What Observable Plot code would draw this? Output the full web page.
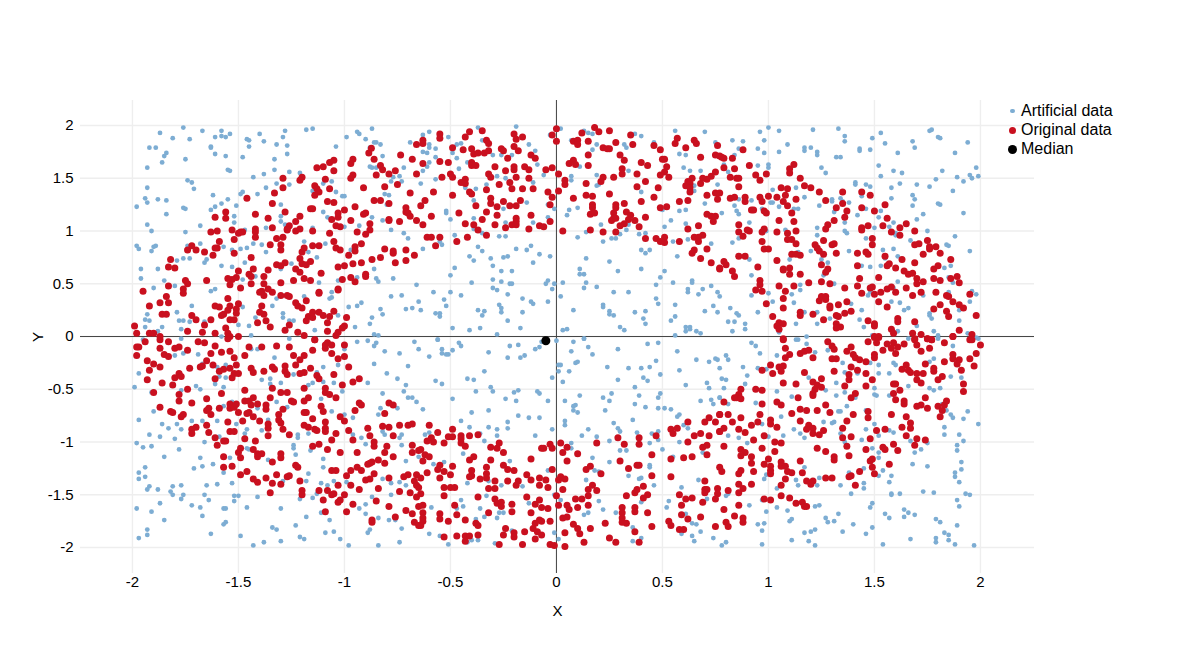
<!DOCTYPE html>
<html>
<head>
<meta charset="utf-8">
<script src="https://cdn.jsdelivr.net/npm/d3@7"></script>
<script src="https://cdn.jsdelivr.net/npm/@observablehq/plot@0.6"></script>
<style>
html,body{margin:0;padding:0;background:#fff;}
#wrap{position:relative;width:1183px;height:654px;font-family:"Liberation Sans",Arial,sans-serif;}
.lg{position:absolute;left:1021px;font-size:16px;line-height:18px;color:#000;white-space:nowrap;}
.sw{position:absolute;border-radius:50%;}
</style>
</head>
<body>
<div id="wrap"></div>
<script>
const xTicks=[-2,-1.5,-1,-0.5,0,0.5,1,1.5,2];
const yTicks=[-2,-1.5,-1,-0.5,0,0.5,1,1.5,2];
const medianPoint=[[-0.05,-0.04]];
const originalNW=[[-1.99,.1],[-1.98,.03],[-1.92,.03],[-1.9,.03],[-1.87,0],[-.873,1.785],[-.885,1.74],[-.66,1.82],[-.735,1.72],[-.68,1.68],[-.86,1.68],[-.96,1.68],[-.97,1.64],[-1.05,1.67],[-1.07,1.65],[-1.1,1.61],[-1.13,1.6],[-1.05,1.57],[-.83,1.62],[-.82,1.58],[-.85,1.53],[-.79,1.54],[-.76,1.57],[-.75,1.44],[-.66,1.54],[-.96,1.53],[-.97,1.5],[-1.09,1.49],[-1.2,1.51],[-1.21,1.48],[-1.29,1.5],[-1.29,1.41],[-1.33,1.36],[-1.14,1.43],[-1.07,1.4],[-1.13,1.4],[-1.12,1.37],[-1.14,1.34],[-.91,1.41],[-.81,1.42],[-.69,1.36],[-1.46,1.31],[-1.34,1.26],[-1.08,1.28],[-1.05,1.27],[-.86,1.29],[-.83,1.29],[-.79,1.26],[-.71,1.22],[-.71,1.18],[-.7,1.17],[-.69,1.14],[-.66,1.1],[-.95,1.23],[-1,1.2],[-1.16,1.21],[-1.15,1.21],[-1.28,1.18],[-1.42,1.16],[-1.56,1.18],[-1.56,1.12],[-1.61,1.13],[-1.36,1.12],[-1.21,1.14],[-1.23,1.09],[-1.26,1.05],[-1.27,1.02],[-1.27,1.01],[-1.23,1],[-1.21,1.02],[-1.34,1.03],[-1.42,1.02],[-1.42,.99],[-1.42,.94],[-1.48,.99],[-1.49,.99],[-1.5,.98],[-1.53,1.01],[-1.52,.92],[-1.6,1],[-1.63,.99],[-1.59,.9],[-1.6,.84],[-1.61,.84],[-1.62,.77],[-1.72,.86],[-1.74,.82],[-1.7,.82],[-1.66,.8],[-1.52,.79],[-1.44,.75],[-1.82,.73],[-1.83,.66],[-1.8,.65],[-1.5,.62],[-1.43,.64],[-1.45,.59],[-1.44,.57],[-1.36,.63],[-1.38,.57],[-1.51,.56],[-1.53,.54],[-1.54,.49],[-1.55,.55],[-1.65,.53],[-1.75,.53],[-1.74,.5],[-1.76,.45],[-1.76,.41],[-1.83,.48],[-1.95,.43],[-1.84,.38],[-1.87,.32],[-1.83,.32],[-1.92,.29],[-1.86,.21],[-1.84,.21],[-1.72,.2],[-1.7,.16],[-1.66,.11],[-1.74,.05],[-1.67,.04],[-1.61,.03],[-1.56,.08],[-1.55,.03],[-1.54,0],[-1.5,0],[-1.63,.16],[-1.61,.29],[-1.59,.28],[-1.55,.36],[-1.54,.29],[-1.5,.31],[-1.55,.25],[-1.57,.21],[-1.58,.2],[-1.51,.26],[-1.51,.22],[-1.54,.16],[-1.52,.16],[-1.49,.46],[-1.44,.5],[-1.38,.5],[-1.3,.51],[-1.24,.53],[-1.19,.55],[-1.16,.53],[-1.11,.6],[-1.23,.64],[-1.21,.61],[-1.21,.74],[-1.2,.69],[-1.18,.68],[-1.16,.71],[-1.32,.68],[-1.3,.67],[-1.28,.7],[-1.2,.8],[-1.19,.84],[-1.3,.82],[-1.3,.87],[-1.29,.94],[-1.32,.93],[-1.35,.87],[-1.15,.86],[-1.12,.86],[-1.15,1],[-1.07,.98],[-1.05,.9],[-1.04,.84],[-1.02,.82],[-.98,.77],[-.95,.85],[-.95,.81],[-.92,.88],[-.81,.83],[-.77,.79],[-.77,.81],[-.71,.82],[-.67,.77],[-.71,.72],[-.76,.7],[-.83,.75],[-.87,.73],[-.92,.7],[-.96,.69],[-1,.67],[-1.03,.66],[-.97,.56],[-1.01,.54],[-.95,.52],[-.9,.59],[-.9,.57],[-1.03,.44],[-1.03,.45],[-1.12,.42],[-1.12,.41],[-1.18,.34],[-1.23,.32],[-1.22,.29],[-1.2,.27],[-1.27,.39],[-1.26,.38],[-1.3,.39],[-1.34,.42],[-1.36,.45],[-1.39,.43],[-1.4,.42],[-1.38,.39],[-1.39,.29],[-1.4,.23],[-1.38,.21],[-1.37,.15],[-1.41,.13],[-1.35,.09],[-1.28,.06],[-1.26,.11],[-1.22,.04],[-1.19,.01],[-1.17,.19],[-1.18,.15],[-1.15,.18],[-1.15,.23],[-1.12,.23],[-1.1,.2],[-1.07,.19],[-1.05,.24],[-.99,.18],[-1.08,.13],[-1.08,.05],[-1,.1],[-1.01,.08],[-1.03,.04],[-1.04,.01],[-1.14,-.03],[-1.06,1.11],[-1.04,1.05],[-1.03,1.13],[-1.03,1.17],[-1.02,1.04],[-.97,1.1],[-.91,1.16],[-.9,1.17],[-.88,1.07],[-.88,1.01],[-.9,.97],[-.94,.99],[-.79,1.11],[-.79,1.1],[-.74,1.09]];
const originalN=[[-.55,1.92],[-.55,1.88],[-.63,1.86],[-.63,1.83],[-.41,1.94],[-.43,1.89],[-.35,1.95],[-.2,1.92],[-.19,1.87],[-.16,1.89],[0,1.97],[-.02,1.91],[0,1.85],[.18,1.98],[.2,1.94],[.25,1.95],[.12,1.93],[.35,1.91],[.08,1.85],[.1,1.86],[.1,1.82],[.15,1.85],[.28,1.84],[.36,1.82],[.46,1.81],[.49,1.77],[.56,1.83],[.57,1.88],[.61,1.79],[.65,1.86],[.66,1.83],[.76,1.81],[-.49,1.79],[-.44,1.77],[-.4,1.78],[-.39,1.73],[-.37,1.74],[-.34,1.74],[-.33,1.86],[-.32,1.83],[-.32,1.76],[-.26,1.78],[-.25,1.76],[-.2,1.8],[-.18,1.76],[-.23,1.69],[-.12,1.72],[-.1,1.69],[.22,1.79],[.24,1.78],[.25,1.78],[.15,1.72],[.3,1.72],[.32,1.67],[.15,1.62],[.31,1.59],[.4,1.65],[.43,1.62],[.5,1.68],[.51,1.68],[.52,1.61],[.68,1.7],[.75,1.72],[.77,1.71],[-.55,1.66],[-.51,1.65],[-.63,1.64],[-.4,1.65],[-.4,1.62],[-.38,1.62],[-.29,1.61],[-.2,1.61],[-.2,1.58],[-.24,1.57],[-.15,1.61],[-.13,1.58],[-.05,1.58],[-.02,1.6],[.06,1.64],[.08,1.67],[.09,1.63],[.01,1.54],[.22,1.51],[.21,1.47],[.27,1.51],[.31,1.54],[.38,1.54],[.49,1.53],[.51,1.56],[.53,1.51],[.75,1.56],[.73,1.52],[.71,1.49],[.69,1.5],[.68,1.45],[.64,1.5],[.62,1.47],[.63,1.45],[.61,1.43],[.63,1.41],[.63,1.37],[-.54,1.51],[-.5,1.54],[-.49,1.51],[-.43,1.49],[-.45,1.46],[-.43,1.45],[-.32,1.54],[-.31,1.51],[-.19,1.51],[-.13,1.5],[-.22,1.46],[-.27,1.44],[-.33,1.39],[-.21,1.4],[-.16,1.4],[-.11,1.4],[.04,1.48],[.04,1.44],[.01,1.38],[-.04,1.37],[-.02,1.32],[.14,1.45],[.42,1.47],[.38,1.42],[.48,1.41],[.46,1.32],[.4,1.28],[-.58,1.37],[-.49,1.34],[-.41,1.37],[-.4,1.35],[-.31,1.31],[-.31,1.26],[-.25,1.28],[-.17,1.29],[.14,1.34],[.17,1.33],[.25,1.35],[.08,1.31],[-.03,1.25],[-.38,1.24],[-.28,1.23],[-.22,1.24],[-.19,1.24],[.17,1.25],[.17,1.22],[.28,1.25],[.28,1.22],[.32,1.26],[.49,1.22],[.52,1.23],[.58,1.28],[.62,1.29],[.71,1.34],[.75,1.36],[.76,1.3],[-.62,1.29],[-.64,1.24],[-.59,1.14],[-.46,1.17],[-.33,1.18],[-.28,1.15],[-.35,1.11],[-.12,1.15],[-.19,1.12],[-.19,1.09],[-.43,1.07],[-.39,1.06],[-.37,1.01],[-.29,1.06],[-.24,1.03],[-.21,1.06],[-.19,1.06],[-.13,1.02],[-.08,1.05],[-.06,1.04],[-.03,1.09],[.03,1],[-.33,.96],[.16,1.16],[.18,1.17],[.27,1.17],[.27,1.12],[.26,1.1],[.28,1.12],[.33,1.18],[.35,1.15],[.34,1.11],[.32,1.07],[.3,1.05],[.37,1.1],[.39,1.04],[.42,1.13],[.28,.99],[.22,.99],[.16,1.01],[.67,1.05],[.62,1.02],[.71,1.16],[.73,1.14],[.74,1.09],[.75,1.14],[-.63,1.06],[-.61,.94],[-.59,.94],[-.55,.94],[-.57,.86],[-.47,.9],[-.42,.94],[.42,.93],[.47,.93],[.51,.94],[.49,.9],[.51,.89],[.58,.9],[.65,.94],[.69,.96],[.67,.94],[.67,.9],[.71,.83],[.65,.82],[.64,.79],[.68,.74],[.73,.7],[.77,.65]];
const originalNE=[[.88,1.77],[.78,1.7],[.79,1.69],[.83,1.69],[.79,1.6],[.84,1.59],[.91,1.62],[.82,1.51],[.85,1.5],[.86,1.5],[.86,1.42],[.94,1.53],[.96,1.48],[.99,1.54],[1.12,1.63],[1.1,1.59],[1.1,1.55],[1.15,1.5],[1.17,1.43],[1.2,1.41],[1.24,1.37],[.77,1.36],[.82,1.31],[.84,1.32],[.89,1.32],[.89,1.28],[.96,1.32],[.97,1.28],[1,1.33],[1.04,1.32],[1.06,1.41],[1.09,1.4],[1.08,1.34],[1.07,1.28],[1.09,1.24],[1.13,1.3],[1.27,1.29],[1.35,1.37],[1.44,1.37],[1.48,1.34],[1.35,1.26],[1.32,1.22],[1.37,1.19],[1.44,1.22],[1.5,1.19],[1.55,1.25],[.92,1.2],[.93,1.2],[.98,1.19],[.99,1.17],[1.11,1.17],[1.12,1.09],[1.05,1.1],[1.31,1.1],[1.36,1.13],[1.28,1.06],[1.27,1.02],[1.56,1.12],[1.54,1.05],[1.47,1.05],[1.44,1.03],[1.44,1.01],[.86,1.06],[.86,.99],[.88,.95],[.9,1.01],[.91,1],[.97,.99],[.98,1.02],[1.04,.99],[1.09,.98],[1.13,1],[1.09,.92],[1.11,.92],[1.13,.88],[.97,.9],[.98,.83],[1,.83],[1.62,1.03],[1.65,1.07],[1.69,1],[1.58,.99],[1.62,.96],[1.49,.93],[1.49,.87],[1.26,.91],[1.22,.87],[1.23,.84],[1.24,.81],[1.26,.78],[1.3,.87],[1.31,.88],[1.32,.79],[1.25,.68],[1.42,.79],[1.46,.8],[1.47,.78],[1.42,.67],[1.55,.76],[1.57,.69],[1.56,.67],[1.6,.65],[1.63,.73],[1.69,.7],[1.69,.87],[1.71,.88],[1.75,.91],[1.73,.78],[1.76,.83],[1.76,.85],[1.79,.85],[1.81,.79],[1.86,.73],[1.78,.64],[1.8,.67],[.86,.76],[.89,.76],[.79,.71],[.8,.68],[.77,.64],[.83,.62],[.84,.57],[.95,.66],[1.04,.72],[1.11,.78],[1.13,.78],[1.15,.77],[1.07,.64],[1.07,.63],[1.1,.65],[1.1,.59],[1.15,.59],[1.28,.64],[1.27,.61],[.96,.53],[.96,.49],[.94,.44],[.97,.43],[1.05,.48],[1.12,.48],[1.19,.51],[1.25,.52],[1.29,.5],[1.08,.43],[1.07,.36],[1.36,.46],[1.42,.48],[1.43,.55],[1.52,.56],[1.48,.46],[1.49,.47],[1.44,.41],[1.5,.4],[1.53,.42],[1.56,.45],[1.58,.47],[1.6,.42],[1.65,.46],[1.52,.33],[1.56,.28],[1.37,.33],[1.33,.3],[1.29,.29],[1.29,.27],[1.24,.34],[1.25,.38],[1.27,.38],[1.27,.35],[.99,.31],[1.07,.27],[1.02,.19],[1.15,.23],[1.15,.2],[1.21,.21],[1.26,.16],[1.36,.22],[1.39,.24],[1.32,.2],[1.33,.19],[1.05,.13],[1.07,.12],[1.04,.1],[1.05,.07],[1.32,.12],[1.34,.09],[1.32,.08],[1.47,.15],[1.5,.12],[1.5,.1],[1.61,.17],[1.61,.14],[1.69,.14],[1.58,.07],[1.59,.03],[1.68,.03],[1.72,.02],[1.69,-.02],[1.87,0],[1.9,.06],[1.96,.02],[1.95,-.03],[1.98,.2],[1.85,.19],[1.84,.24],[1.81,.3],[1.78,.26],[1.68,.39],[1.72,.42],[1.79,.42],[1.84,.39],[1.85,.38],[1.87,.33],[1.9,.3],[1.92,.27],[1.95,.4],[1.73,.52],[1.7,.55],[1.7,.5],[1.78,.55],[1.81,.53],[1.86,.55],[1.89,.57],[1.9,.51],[1.64,.62],[1.66,.59],[1.68,.6],[1.5,-.01],[1.52,-.01],[1.75,-.02],[1.77,-.03],[1.07,-.03]];
const originalSW=[[-1.94,-.05],[-1.87,-.03],[-1.83,-.05],[-1.98,-.1],[-1.97,-.1],[-1.98,-.18],[-1.87,-.11],[-1.85,-.17],[-1.83,-.19],[-1.8,-.11],[-1.78,-.1],[-1.74,-.13],[-1.69,-.05],[-1.66,-.06],[-1.61,-.09],[-1.63,-.16],[-1.58,-.15],[-1.54,-.14],[-1.55,-.02],[-1.45,-.1],[-1.39,-.1],[-1.52,-.2],[-1.47,-.18],[-1.65,-.23],[-1.93,-.23],[-1.9,-.26],[-1.87,-.29],[-1.92,-.32],[-1.93,-.41],[-1.86,-.44],[-1.8,-.39],[-1.78,-.35],[-1.77,-.38],[-1.73,-.3],[-1.81,-.46],[-1.68,-.29],[-1.67,-.28],[-1.62,-.27],[-1.59,-.33],[-1.57,-.31],[-1.54,-.3],[-1.51,-.27],[-1.52,-.35],[-1.5,-.35],[-1.53,-.39],[-1.61,-.4],[-1.44,-.3],[-1.43,-.34],[-1.38,-.33],[-1.34,-.29],[-1.33,-.31],[-1.28,-.28],[-1.28,-.33],[-1.27,-.36],[-1.23,-.27],[-1.21,-.35],[-1.19,-.34],[-1.16,-.3],[-1.13,-.37],[-1.12,-.4],[-1.05,-.36],[-1.24,-.18],[-1.32,-.09],[-1.26,-.1],[-1.21,-.22],[-1.19,-.18],[-1.15,-.13],[-1.14,-.03],[-1.09,-.11],[-1.08,-.06],[-1.09,-.08],[-1.06,-.08],[-1.06,-.16],[-1.03,-.21],[-1,-.19],[-1,-.08],[-.98,-.29],[-.96,-.43],[-.93,-.4],[-1.01,-.46],[-1.19,-.49],[-1.09,-.49],[-1.34,-.49],[-1.47,-.51],[-1.74,-.5],[-1.58,-.54],[-1.78,-.55],[-1.78,-.61],[-1.9,-.53],[-1.65,-.59],[-1.72,-.63],[-1.87,-.67],[-1.82,-.71],[-1.81,-.72],[-1.76,-.74],[-1.77,-.76],[-1.64,-.68],[-1.65,-.7],[-1.63,-.74],[-1.59,-.68],[-1.54,-.64],[-1.54,-.68],[-1.52,-.67],[-1.51,-.64],[-1.5,-.72],[-1.47,-.61],[-1.45,-.61],[-1.43,-.58],[-1.44,-.65],[-1.41,-.64],[-1.46,-.73],[-1.45,-.72],[-1.43,-.76],[-1.37,-.65],[-1.37,-.69],[-1.35,-.58],[-1.3,-.53],[-1.27,-.53],[-1.29,-.69],[-1.31,-.74],[-1.31,-.79],[-1.25,-.61],[-1.24,-.62],[-1.19,-.61],[-1.17,-.58],[-1.19,-.72],[-1.18,-.72],[-1.15,-.78],[-1.11,-.66],[-1.1,-.71],[-1.09,-.81],[-1.09,-.53],[-1.07,-.55],[-1.04,-.58],[-1.02,-.76],[-1,-.8],[-.95,-.7],[-.93,-.63],[-.92,-.65],[-.81,-.73],[-.79,-.63],[-.77,-.65],[-1.4,-.8],[-1.48,-.8],[-1.55,-.81],[-1.65,-.84],[-1.7,-.86],[-1.72,-.88],[-1.72,-.92],[-1.64,-.91],[-1.54,-.9],[-1.52,-.9],[-1.36,-.83],[-1.36,-.87],[-1.36,-.94],[-1.3,-.82],[-1.29,-.88],[-1.26,-.93],[-1.19,-.84],[-1.17,-.86],[-1.14,-.88],[-1.13,-.89],[-1.09,-.87],[-1.09,-.9],[-1.04,-.92],[-.98,-.89],[-.89,-.87],[-.88,-.94],[-.82,-.85],[-.79,-.86],[-.74,-.84],[-.7,-.84],[-.68,-.83],[-.77,-.94],[-.96,-.98],[-1.06,-.98],[-1.61,-.96],[-1.6,-1.03],[-1.57,-.99],[-1.56,-.99],[-1.47,-.97],[-1.42,-.99],[-1.49,-1.06],[-1.5,-1.1],[-1.49,-1.15],[-1.43,-1.07],[-1.41,-1.11],[-1.39,-1.11],[-1.41,-1.14],[-1.3,-1.11],[-1.3,-1.15],[-1.34,-1.19],[-1.57,-1.14],[-1.53,-1.23],[-1.57,-1.24],[-1.15,-1.04],[-1.12,-1.02],[-1.08,-1.07],[-1.02,-1.1],[-.94,-1.1],[-.86,-1],[-.86,-1.04],[-.8,-1.04],[-.81,-1.1],[-.77,-1.14],[-.81,-1.2],[-.68,-1.03],[-.68,-1.1],[-.65,-1.08],[-.84,-1.17],[-.87,-1.19],[-.89,-1.21],[-.88,-1.2],[-.94,-1.24],[-.92,-1.27],[-.97,-1.27],[-1.06,-1.27],[-1.04,-1.27],[-1.23,-1.22],[-1.22,-1.24],[-1.49,-1.31],[-1.46,-1.28],[-1.43,-1.35],[-1.41,-1.38],[-1.37,-1.34],[-1.32,-1.31],[-1.34,-1.39],[-1.3,-1.4],[-1.27,-1.33],[-1.26,-1.32],[-1.21,-1.37],[-1.2,-1.46],[-1.2,-1.5],[-1.35,-1.48],[-.99,-1.32],[-.86,-1.3],[-.88,-1.35],[-.9,-1.36],[-.97,-1.41],[-1.03,-1.41],[-.93,-1.45],[-.84,-1.44],[-.79,-1.34],[-.72,-1.33],[-.7,-1.31],[-.66,-1.31],[-.67,-1.37],[-.66,-1.41],[-.65,-1.43],[-.74,-1.47],[-.69,-1.48],[-.66,-1.52],[-1.12,-1.46],[-1.08,-1.46],[-1.06,-1.5],[-1.05,-1.49],[-1,-1.5],[-1.1,-1.55],[-1.02,-1.55],[-1.03,-1.57],[-.96,-1.59],[-.85,-1.56],[-.79,-1.61],[-.65,-1.61],[-.71,-1.65],[-.68,-1.68],[-.76,-1.71],[-1.09,-1.66],[-.99,-1.66],[-.87,-1.74],[-.87,-1.76],[-.67,-1.76],[-.65,-1.79]];
const originalS=[[-.6,-.84],[-.49,-.88],[-.56,-.91],[-.51,-.95],[-.49,-.95],[-.45,-.94],[-.45,-.97],[-.41,-.94],[-.37,-.93],[-.61,-.99],[-.59,-.96],[-.58,-1],[-.53,-1.01],[-.45,-1.01],[-.43,-1.04],[-.31,-1.05],[-.28,-1.06],[-.27,-1.01],[-.25,-1.1],[-.07,-1.06],[-.06,-1.06],[-.03,-1.02],[-.02,-1.06],[.02,-1.01],[.05,-1.05],[.03,-1.1],[.1,-1.11],[.19,-1.01],[.29,-.96],[.32,-1.02],[.39,-.96],[.39,-1.02],[.45,-1.12],[.47,-.94],[.54,-.88],[.55,-.92],[.57,-.87],[.62,-.81],[.65,-.94],[.62,-1],[.68,-.92],[.72,-.94],[.69,-1.05],[.71,-1.03],[.71,-1.12],[.7,-.81],[.72,-.77],[.75,-.81],[.77,-.74],[.77,-.9],[-.64,-1.07],[-.62,-1.12],[-.6,-1.14],[-.63,-1.18],[-.55,-1.22],[-.56,-1.26],[-.49,-1.23],[-.5,-1.31],[-.53,-1.28],[-.61,-1.29],[-.64,-1.34],[-.55,-1.34],[-.41,-1.17],[-.39,-1.14],[-.31,-1.17],[-.33,-1.24],[-.4,-1.27],[-.4,-1.32],[-.41,-1.33],[-.33,-1.3],[-.33,-1.34],[-.36,-1.35],[-.25,-1.22],[-.23,-1.26],[-.2,-1.27],[-.12,-1.16],[-.14,-1.31],[-.12,-1.36],[-.02,-1.26],[-.08,-1.34],[-.05,-1.36],[-.08,-1.41],[-.04,-1.43],[-.18,-1.37],[-.19,-1.41],[-.23,-1.37],[-.29,-1.37],[-.32,-1.44],[-.29,-1.44],[.02,-1.33],[.01,-1.36],[.04,-1.35],[.03,-1.45],[.05,-1.18],[.14,-1.26],[.16,-1.23],[.21,-1.3],[.3,-1.18],[.34,-1.25],[.38,-1.22],[.39,-1.22],[.45,-1.32],[.54,-1.33],[.54,-1.16],[.6,-1.15],[.64,-1.14],[.77,-1.24],[.7,-1.37],[-.53,-1.43],[-.5,-1.43],[-.48,-1.43],[-.53,-1.51],[-.64,-1.49],[-.37,-1.52],[-.29,-1.54],[-.28,-1.58],[-.26,-1.57],[-.26,-1.61],[-.21,-1.59],[-.14,-1.52],[-.08,-1.55],[-.1,-1.59],[-.07,-1.62],[-.04,-1.63],[0,-1.51],[.01,-1.6],[.05,-1.6],[.06,-1.64],[.09,-1.54],[.12,-1.54],[.15,-1.51],[.15,-1.6],[.1,-1.62],[.19,-1.46],[.15,-1.45],[.17,-1.41],[.33,-1.51],[.37,-1.48],[.38,-1.45],[.41,-1.42],[.43,-1.5],[.41,-1.53],[.58,-1.5],[.61,-1.54],[.64,-1.53],[.59,-1.6],[.69,-1.57],[.7,-1.45],[.71,-1.45],[.7,-1.48],[.76,-1.44],[.76,-1.49],[.75,-1.54],[-.63,-1.6],[-.63,-1.67],[-.63,-1.72],[-.63,-1.75],[-.64,-1.79],[-.55,-1.68],[-.55,-1.73],[-.51,-1.75],[-.48,-1.6],[-.47,-1.69],[-.43,-1.74],[-.32,-1.67],[-.38,-1.77],[-.37,-1.79],[-.21,-1.66],[-.12,-1.67],[-.03,-1.75],[-.08,-1.74],[-.07,-1.75],[-.1,-1.77],[-.11,-1.82],[-.09,-1.85],[-.07,-1.88],[-.24,-1.82],[-.25,-1.88],[-.2,-1.86],[-.2,-1.9],[-.15,-1.85],[-.53,-1.9],[-.47,-1.89],[-.43,-1.89],[-.43,-1.94],[-.41,-1.89],[-.37,-1.88],[-.27,-1.97],[-.16,-1.97],[-.1,-1.92],[-.03,-1.97],[-.01,-1.98],[.04,-1.99],[.03,-1.72],[.05,-1.71],[.08,-1.78],[.1,-1.82],[.11,-1.87],[.04,-1.86],[.16,-1.82],[.13,-1.95],[.23,-1.77],[.25,-1.91],[.28,-1.95],[.31,-1.62],[.31,-1.67],[.31,-1.72],[.31,-1.76],[.33,-1.77],[.37,-1.62],[.37,-1.66],[.43,-1.67],[.37,-1.85],[.39,-1.95],[.45,-1.8],[.53,-1.75],[.54,-1.79],[.58,-1.83],[.6,-1.83],[.59,-1.69],[.62,-1.73],[.68,-1.71],[.75,-1.8]];
const originalSE=[[1.07,-.02],[1.08,-.11],[1.1,-.17],[1.08,-.2],[1.15,-.16],[1.17,-.14],[1.19,-.13],[1.21,-.2],[1.28,-.05],[1.3,-.09],[1.31,-.12],[1.3,-.21],[1.32,-.21],[1.37,-.14],[1.39,-.1],[1.4,-.17],[1.41,-.2],[1.43,-.22],[1.46,-.24],[1.47,-.05],[1.5,0],[1.52,0],[1.51,-.06],[1.54,-.13],[1.56,-.07],[1.59,-.06],[1.58,-.11],[1.61,-.1],[1.64,-.07],[1.6,-.16],[1.5,-.17],[1.5,-.2],[1.69,-.03],[1.7,-.08],[1.72,-.14],[1.76,-.11],[1.75,-.02],[1.77,-.03],[1.83,-.06],[1.87,0],[1.96,-.03],[2,-.08],[1.98,-.16],[1.95,-.21],[1.97,-.28],[1.87,-.17],[1.87,-.21],[1.9,-.22],[1.89,-.26],[1.91,-.32],[1.83,-.24],[1.74,-.26],[1.65,-.27],[1.63,-.31],[1.66,-.32],[1.67,-.34],[1.7,-.35],[1.73,-.35],[1.78,-.3],[1.78,-.33],[1.82,-.38],[1.8,-.41],[1.7,-.41],[1.72,-.44],[1.92,-.45],[1.92,-.52],[.97,-.32],[1.01,-.27],[1.02,-.35],[1.05,-.29],[1.07,-.28],[1.06,-.33],[1.17,-.34],[1.31,-.33],[1.39,-.29],[1.42,-.32],[1.38,-.36],[1.38,-.41],[1.46,-.35],[1.49,-.41],[1.46,-.47],[1.36,-.47],[1.25,-.4],[1.21,-.43],[1.23,-.46],[1.25,-.48],[1.22,-.5],[1.21,-.54],[1.21,-.56],[1.07,-.44],[1.13,-.45],[1.39,-.58],[1.41,-.54],[1.59,-.45],[1.6,-.45],[1.62,-.51],[1.59,-.54],[1.6,-.6],[1.64,-.61],[1.64,-.64],[1.74,-.58],[1.72,-.65],[1.7,-.66],[1.75,-.68],[1.8,-.66],[1.83,-.65],[1.84,-.61],[1.82,-.7],[1.81,-.76],[.87,-.5],[.94,-.5],[.97,-.51],[.86,-.55],[.84,-.58],[.85,-.58],[.87,-.59],[.79,-.62],[.97,-.64],[1.14,-.58],[1.04,-.62],[1.06,-.65],[.77,-.74],[.81,-.74],[.87,-.77],[.96,-.74],[1.01,-.79],[1.01,-.83],[.95,-.81],[.83,-.81],[.92,-.84],[.86,-.88],[.79,-.87],[.77,-.9],[.89,-.91],[.98,-.94],[.93,-.98],[1.11,-.73],[1.15,-.69],[1.18,-.7],[1.23,-.7],[1.27,-.65],[1.29,-.72],[1.4,-.74],[1.47,-.71],[1.47,-.77],[1.58,-.74],[1.65,-.76],[1.15,-.8],[1.19,-.84],[1.21,-.87],[1.18,-.88],[1.21,-.92],[1.24,-.93],[1.26,-.89],[1.04,-.86],[1.37,-.8],[1.35,-.87],[1.35,-.96],[1.39,-.95],[1.37,-1.04],[1.51,-.89],[1.55,-.88],[1.48,-.97],[1.46,-1.07],[1.63,-.86],[1.67,-.82],[1.67,-.87],[1.65,-.94],[1.7,-.97],[1.74,-.98],[1.69,-1.03],[1.59,-1.02],[1.54,-1.05],[1.55,-1.07],[1.61,-1.08],[1.03,-1],[1.06,-1.01],[.79,-1.04],[.97,-1.06],[.87,-1.07],[.89,-1.1],[.92,-1.14],[.87,-1.13],[1.03,-1.09],[1.23,-1.06],[1.27,-1.09],[1.31,-1.14],[1.31,-1.17],[1.38,-1.13],[1,-1.16],[.92,-1.2],[.98,-1.21],[1.01,-1.23],[1.06,-1.19],[1.06,-1.23],[1.08,-1.23],[1.15,-1.18],[1.01,-1.27],[1.01,-1.3],[1.09,-1.28],[1.11,-1.29],[1.16,-1.29],[.93,-1.28],[.87,-1.27],[.86,-1.3],[.78,-1.28],[1.08,-1.35],[1.18,-1.37],[1.21,-1.37],[1.2,-1.4],[1.27,-1.34],[1.3,-1.34],[1.38,-1.33],[1.39,-1.32],[1.43,-1.28],[1.41,-1.41],[1.48,-1.18],[1.49,-1.16],[1.49,-1.24],[1.5,-1.3],[1.57,-1.21],[.86,-1.4],[.92,-1.4],[1.06,-1.41],[.88,-1.44],[.81,-1.46],[.86,-1.48],[1.06,-1.51],[.98,-1.54],[1.01,-1.55],[1.1,-1.53],[1.13,-1.58],[1.16,-1.57],[1.17,-1.61],[1.18,-1.61],[.86,-1.6],[.79,-1.64],[.84,-1.7],[.88,-1.72],[.88,-1.76],[.8,-1.76],[.81,-1.8]];
const artificialNW=[[-1.87,1.93],[-1.76,1.98],[-1.67,1.95],[-1.58,1.95],[-1.61,1.89],[-1.58,1.9],[-1.56,1.89],[-1.54,1.92],[-1.81,1.88],[-1.73,1.87],[-1.92,1.79],[-1.89,1.79],[-1.63,1.8],[-1.63,1.79],[-1.46,1.87],[-1.45,1.86],[-1.45,1.8],[-1.4,1.92],[-1.38,1.85],[-1.29,1.89],[-1.28,1.95],[-1.32,1.82],[-1.27,1.81],[-1.27,1.73],[-1.18,1.96],[-1.15,1.97],[-1.04,1.8],[-.99,1.89],[-.94,1.94],[-.93,1.92],[-.87,1.97],[-.9,1.87],[-.86,1.84],[-.85,1.84],[-.83,1.82],[-.88,1.79],[-.69,1.84],[-1.84,1.74],[-1.85,1.71],[-1.86,1.65],[-1.75,1.68],[-1.61,1.73],[-1.56,1.71],[-1.48,1.7],[-1.33,1.68],[-.82,1.71],[-1.93,1.6],[-1.55,1.58],[-1.54,1.57],[-1.33,1.58],[-1.26,1.56],[-1.21,1.55],[-1.38,1.54],[-1.43,1.51],[-.88,1.61],[-.87,1.6],[-.85,1.6],[-.72,1.6],[-1.74,1.48],[-1.72,1.46],[-1.71,1.4],[-1.93,1.41],[-1.32,1.45],[-1.26,1.44],[-1.37,1.41],[-1.1,1.45],[-1.06,1.47],[-1.15,1.38],[-1.04,1.37],[-1.01,1.33],[-1,1.33],[-.81,1.35],[-.79,1.34],[-.8,1.25],[-.77,1.51],[-.74,1.52],[-.78,1.47],[-.73,1.47],[-1.62,1.34],[-1.49,1.35],[-1.48,1.37],[-1.41,1.35],[-1.94,1.31],[-1.93,1.27],[-1.88,1.3],[-1.84,1.29],[-1.98,1.23],[-1.76,1.22],[-1.75,1.21],[-1.84,1.16],[-1.63,1.2],[-1.61,1.23],[-1.58,1.26],[-1.55,1.3],[-1.51,1.24],[-1.3,1.25],[-1.52,1.14],[-1.52,1.08],[-1.93,1.06],[-1.91,1],[-1.68,1.05],[-1.75,.99],[-1.47,1.01],[-1.37,1.03],[-1.3,1.14],[-1.3,1.09],[-1.28,1.06],[-1.1,1.18],[-1.08,1.13],[-1.15,1.03],[-1,1.04],[-.93,1.05],[-.87,1.13],[-.82,1.1],[-.78,1.01],[-.72,.98],[-.7,.93],[-1.98,.86],[-1.97,.83],[-1.91,.81],[-1.9,.85],[-1.89,.86],[-1.68,.88],[-1.74,.86],[-1.57,.85],[-1.53,.82],[-1.49,.83],[-1.46,.84],[-1.43,.88],[-1.39,.87],[-1.37,.8],[-1.19,.9],[-1.17,.8],[-1.09,.88],[-.97,.82],[-1.79,.72],[-1.76,.74],[-1.73,.74],[-1.65,.73],[-1.66,.7],[-1.58,.67],[-1.53,.66],[-1.47,.7],[-1.25,.69],[-1.13,.75],[-1.96,.64],[-1.88,.64],[-1.96,.55],[-1.85,.53],[-1.8,.48],[-1.9,.46],[-1.63,.43],[-1.61,.45],[-1.48,.54],[-1.42,.57],[-1.3,.64],[-1.12,.51],[-1.03,.53],[-.94,.56],[-.86,.64],[-.85,.55],[-.84,.52],[-.77,.55],[-.66,.49],[-1.06,.42],[-1.06,.37],[-1.07,.36],[-1.19,.38],[-1.32,.36],[-1.34,.29],[-1.29,.22],[-.78,.38],[-.73,.39],[-.65,.33],[-.71,.26],[-.68,.27],[-.98,.28],[-.94,.29],[-.92,.32],[-.83,.26],[-.82,.21],[-.87,.18],[-.88,.12],[-.95,.09],[-1.03,.2],[-1.29,.18],[-1.26,.15],[-1.24,.15],[-1.42,.18],[-1.45,.1],[-1.5,.11],[-1.48,.28],[-1.72,.29],[-1.79,.23],[-1.93,.21],[-1.94,.16],[-1.92,.15],[-1.94,.09],[-1.88,.05],[-1.86,.09],[-1.78,.15],[-1.76,.15],[-1.73,.14],[-1.77,.07],[-1.66,.14],[-1.14,.06],[-1.44,.01],[-.86,.02],[-.84,.01],[-1.26,-.02],[-1.58,0],[-1.77,-.02],[-1.95,-.03]];
const artificialN=[[-.6,1.94],[-.63,1.91],[-.37,1.98],[-.19,1.99],[-.51,1.89],[-.47,1.82],[-.45,1.83],[-.6,1.82],[-.6,1.79],[-.57,1.78],[-.63,1.75],[-.61,1.74],[-.49,1.74],[-.57,1.7],[-.47,1.69],[-.6,1.65],[-.61,1.61],[-.63,1.57],[-.42,1.65],[-.46,1.59],[-.35,1.86],[-.3,1.72],[-.26,1.72],[-.1,1.76],[-.13,1.82],[-.09,1.63],[-.21,1.72],[-.28,1.52],[-.24,1.5],[-.33,1.44],[-.38,1.4],[-.43,1.41],[-.57,1.49],[-.64,1.45],[-.06,1.53],[-.11,1.46],[-.14,1.27],[-.39,1.29],[-.25,1.21],[-.04,1.25],[-.01,1.21],[.06,1.2],[.1,1.22],[.05,1.15],[-.04,1.13],[-.52,1.17],[-.52,1.19],[-.5,1.11],[-.39,1.12],[-.11,1.08],[-.24,1.08],[-.39,1.02],[-.35,.98],[-.27,.95],[-.24,.95],[-.48,.96],[-.55,.9],[-.54,.87],[-.63,.83],[-.37,.85],[-.35,.81],[-.41,.76],[-.39,.72],[-.31,.74],[-.25,.75],[-.23,.76],[-.19,.83],[-.14,.82],[-.12,.86],[-.08,.78],[-.03,.76],[-.11,.7],[-.3,.67],[-.26,.62],[-.21,.62],[-.48,.65],[-.5,.58],[-.3,.54],[-.26,.52],[-.22,.5],[-.21,.5],[-.4,.51],[-.05,.5],[-.04,.53],[-.01,.5],[.03,.51],[-.02,.45],[-.3,.46],[-.28,.44],[-.23,.4],[-.58,.42],[-.5,.42],[-.45,.39],[-.53,.35],[-.52,.29],[-.64,.25],[-.57,.22],[-.55,.22],[-.55,.19],[-.16,.36],[-.12,.33],[-.11,.31],[-.04,.33],[.02,.38],[-.27,.3],[-.26,.27],[-.26,.23],[-.37,.25],[-.34,.24],[-.35,.2],[-.16,.23],[-.23,.15],[-.49,.08],[-.41,.06],[-.36,.08],[-.17,.08],[-.28,.02],[.03,.06],[.05,.07],[-.56,-.03],[.13,-.02],[.02,1.97],[-.03,1.91],[.13,1.95],[.15,1.93],[.17,1.92],[.07,1.86],[.19,1.82],[.17,1.77],[.15,1.73],[.32,1.82],[.33,1.79],[.37,1.92],[.4,1.9],[.46,1.84],[.56,1.95],[.7,1.94],[.75,1.84],[.58,1.73],[.61,1.72],[.6,1.6],[.63,1.57],[.68,1.57],[.76,1.44],[.34,1.57],[.11,1.61],[.07,1.52],[.07,1.48],[.19,1.53],[.19,1.43],[.2,1.44],[.4,1.37],[.65,1.43],[.65,1.38],[.7,1.26],[.58,1.19],[.61,1.2],[.5,1.2],[.54,1.1],[.51,1.04],[.61,1.07],[.21,1.06],[.14,.99],[.3,.97],[.33,1.01],[.34,1.06],[.1,.94],[.22,.9],[.26,.93],[.28,.93],[.39,.97],[.42,.98],[.55,.9],[.62,.92],[.73,.88],[.4,.82],[.42,.79],[.44,.82],[.57,.76],[.14,.74],[.25,.71],[.11,.64],[.11,.59],[.13,.59],[.14,.51],[.13,.46],[.19,.47],[.29,.62],[.4,.64],[.51,.62],[.49,.56],[.47,.49],[.55,.51],[.64,.53],[.64,.51],[.62,.45],[.62,.42],[.69,.45],[.73,.48],[.76,.42],[.67,.4],[.77,.38],[.27,.42],[.34,.42],[.47,.36],[.48,.31],[.56,.3],[.22,.3],[.22,.28],[.25,.24],[.25,.21],[.27,.2],[.08,.25],[.37,.23],[.42,.24],[.41,.17],[.42,.12],[.56,.19],[.54,.15],[.7,.24],[.74,.29],[.76,.23],[.61,.09],[.63,.09],[.61,.05],[.63,.07],[.66,.05],[.68,.03],[.56,.01],[.3,.09],[.32,.06]];
const artificialNE=[[.96,1.94],[1,1.98],[1.05,1.95],[1.21,1.96],[1.33,1.97],[1.36,1.9],[1.36,1.85],[1.49,1.88],[1.53,1.93],[1.55,1.83],[1.68,1.85],[1.69,1.79],[1.76,1.95],[1.77,1.96],[1.8,1.89],[1.81,1.88],[1.94,1.84],[1.88,1.74],[.83,1.86],[.88,1.85],[.98,1.86],[.86,1.78],[.95,1.78],[.98,1.74],[1.05,1.75],[1.09,1.82],[1.17,1.79],[1.17,1.76],[1.2,1.79],[1.23,1.75],[1.23,1.72],[1.32,1.7],[1.34,1.7],[1.43,1.78],[1.43,1.76],[1.48,1.77],[1.61,1.74],[.84,1.72],[.79,1.63],[.81,1.56],[.95,1.62],[1,1.63],[1,1.6],[1.25,1.6],[1.27,1.55],[1.52,1.62],[1.59,1.57],[1.63,1.55],[1.53,1.52],[1.82,1.57],[1.98,1.6],[1.95,1.53],[1.96,1.5],[1.99,1.52],[1.89,1.51],[1.79,1.49],[1.92,1.47],[1.41,1.46],[1.41,1.44],[1.46,1.44],[1.48,1.42],[1.62,1.45],[1.7,1.44],[1.58,1.41],[1.76,1.42],[1.87,1.38],[1.02,1.39],[1.13,1.41],[1.17,1.32],[1.3,1.3],[1.3,1.28],[1.34,1.31],[1.35,1.28],[1.38,1.27],[1.44,1.33],[1.58,1.31],[1.68,1.34],[1.69,1.3],[1.68,1.24],[1.8,1.26],[1.81,1.25],[.86,1.3],[.92,1.29],[.84,1.24],[.97,1.21],[1.01,1.27],[1.02,1.27],[1.05,1.23],[1.24,1.24],[1.12,1.21],[1.14,1.21],[.85,1.19],[.86,1.16],[.78,1.17],[1.31,1.18],[1.36,1.08],[1.42,1.15],[1.46,1.21],[1.53,1.19],[1.52,1.13],[1.73,1.16],[1.92,1.17],[1.7,1.11],[1.57,1.04],[1.59,1.08],[1.5,1.03],[.91,1.08],[1.08,1.01],[1.23,1.03],[1.23,.96],[1.36,1],[1.37,.98],[1.75,1],[1.88,.95],[.99,1],[.83,.89],[.86,.93],[1.46,.93],[1.6,.98],[1.6,.96],[1.67,.91],[1.84,.87],[1.85,.86],[1.95,.81],[1.2,.81],[1.38,.81],[1.54,.82],[1.59,.83],[1.14,.8],[1.1,.73],[.91,.73],[1.25,.73],[1.28,.7],[1.61,.76],[1.55,.74],[1.44,.67],[1.48,.66],[1.53,.67],[1.83,.65],[1.86,.67],[.92,.58],[1.26,.58],[1.85,.56],[1.87,.51],[1.61,.52],[1.59,.46],[1.15,.49],[1.15,.44],[1.31,.5],[1,.41],[.92,.39],[1.11,.4],[1.02,.33],[1.12,.32],[1.48,.42],[1.47,.39],[1.58,.33],[1.62,.32],[1.66,.27],[1.64,.25],[1.73,.39],[1.85,.42],[1.85,.4],[1.96,.43],[1.98,.4],[1.95,.33],[1.9,.25],[1.76,.22],[1.76,.2],[1.77,.17],[1.9,.15],[.82,.27],[.85,.22],[.86,.2],[.95,.23],[.81,.14],[.84,.14],[.89,.12],[.83,.05],[.89,.07],[1.39,.31],[1.44,.25],[1.43,.16],[1.45,.09],[1.23,.12],[1.23,.23],[1.17,.23],[1.13,.12],[1.29,.17],[1.05,.04],[1.49,.01],[1.61,.05],[1.7,.1],[1.78,.05],[1.8,.01],[1.8,-.01],[1.94,.03],[1.98,-.01],[1.18,0],[1.13,-.03]];
const artificialSW=[[-.94,-.05],[-.89,-.04],[-.85,-.06],[-.86,-.09],[-.67,-.05],[-.65,-.12],[-.81,-.14],[-.74,-.16],[-.86,-.26],[-.7,-.28],[-.8,-.35],[-.75,-.4],[-.71,-.46],[-.72,-.52],[-.7,-.58],[-.68,-.58],[-.66,-.62],[-.82,-.54],[-.89,-.44],[-1.44,-.12],[-1.41,-.12],[-1.33,-.2],[-1.8,-.18],[-1.76,-.16],[-1.69,-.17],[-1.67,-.26],[-1.97,-.35],[-1.56,-.27],[-1.6,-.29],[-1.56,-.39],[-1.59,-.38],[-1.61,-.45],[-1.57,-.48],[-1.99,-.48],[-1.77,-.51],[-1.7,-.47],[-1.68,-.5],[-1.91,-.53],[-1.39,-.41],[-1.35,-.4],[-1.35,-.45],[-1.3,-.44],[-1.28,-.3],[-1.24,-.36],[-1.17,-.46],[-1.15,-.44],[-1.1,-.29],[-1.13,-.34],[-1.1,-.43],[-1.01,-.52],[-1.03,-.27],[-1,-.12],[-1.05,-.44],[-1.11,-.59],[-1.06,-.71],[-1,-.74],[-.96,-.77],[-.84,-.74],[-.83,-.68],[-.75,-.68],[-1.57,-.66],[-1.53,-.62],[-1.32,-.62],[-1.27,-.67],[-1.41,-.68],[-1.36,-.79],[-1.97,-.79],[-1.9,-.71],[-1.86,-.83],[-1.83,-.87],[-1.79,-.83],[-1.77,-.88],[-1.72,-.8],[-1.67,-.8],[-1.6,-.8],[-1.51,-.83],[-1.46,-.88],[-1.47,-.92],[-1.59,-.95],[-1.66,-1],[-1.39,-.89],[-1.22,-.93],[-1.22,-.96],[-1.17,-.92],[-1.92,-.93],[-1.87,-.95],[-1.8,-.97],[-1.98,-1.01],[-1.95,-1.05],[-1.91,-1.04],[-1.78,-1.07],[-1.85,-1.14],[-1.68,-1.15],[-1.54,-1.15],[-1.62,-1.21],[-1.67,-1.23],[-1.71,-1.25],[-1.57,-1.29],[-1.94,-1.24],[-1.97,-1.29],[-1.94,-1.33],[-1.97,-1.35],[-1.92,-1.42],[-1.93,-1.45],[-1.88,-1.45],[-1.82,-1.47],[-1.81,-1.5],[-1.81,-1.42],[-1.77,-1.41],[-1.76,-1.5],[-1.77,-1.54],[-1.66,-1.5],[-1.64,-1.55],[-1.65,-1.41],[-1.6,-1.4],[-1.53,-1.39],[-1.52,-1.51],[-1.5,-1.51],[-1.52,-1.56],[-1.41,-1.52],[-1.46,-1.62],[-1.57,-1.63],[-1.56,-1.63],[-1.72,-1.6],[-1.68,-1.62],[-1.87,-1.58],[-1.98,-1.63],[-1.91,-1.66],[-1.85,-1.74],[-1.67,-1.7],[-1.56,-1.76],[-1.57,-1.78],[-1.93,-1.83],[-1.93,-1.88],[-1.97,-1.91],[-1.63,-1.87],[-1.49,-1.89],[-1.43,-1.98],[-1.38,-1.95],[-1.3,-1.94],[-1.34,-1.81],[-1.32,-1.83],[-1.3,-1.63],[-1.23,-1.79],[-1.21,-1.9],[-1.19,-1.92],[-1.18,-1.71],[-1.07,-1.74],[-1.11,-1.67],[-1.09,-1.86],[-1.05,-1.85],[-1.02,-1.92],[-.98,-1.98],[-.84,-1.98],[-.74,-1.95],[-.73,-1.82],[-.88,-1.83],[-.89,-1.86],[-.9,-1.68],[-.93,-1.63],[-.9,-1.59],[-.87,-1.52],[-.84,-1.72],[-.79,-1.74],[-.76,-1.74],[-.78,-1.5],[-.74,-1.38],[-.71,-1.41],[-.78,-1.39],[-.82,-1.35],[-.73,-.93],[-.74,-.96],[-.73,-1.03],[-.71,-1.18],[-.65,-1.14],[-.9,-1.02],[-.92,-.96],[-.96,-.93],[-.81,-.93],[-.82,-.9],[-1.24,-1.03],[-1.24,-1.06],[-1.23,-1.12],[-1.16,-1.08],[-1.1,-1.16],[-1.1,-1.24],[-1.17,-1.3],[-1.18,-1.37],[-1.11,-1.39],[-1.08,-1.41],[-1.05,-1.37],[-.99,-1.38],[-1.15,-1.53],[-1.13,-1.49],[-1.21,-1.54],[-1.29,-1.37],[-1.36,-1.17],[-1.46,-1.06],[-1.45,-1.07]];
const artificialS=[[-.56,-.03],[-.46,-.06],[-.45,-.09],[-.54,-.12],[-.54,-.16],[-.6,-.19],[-.51,-.17],[-.52,-.17],[-.49,-.13],[-.32,-.15],[-.22,-.09],[-.18,-.08],[-.23,-.2],[-.17,-.2],[-.15,-.18],[-.1,-.12],[-.08,-.1],[-.07,-.05],[0,-.04],[.08,-.05],[.13,-.02],[.07,-.14],[.15,-.1],[.17,-.17],[.29,-.12],[.43,-.07],[.48,-.06],[.57,-.14],[.66,-.22],[.72,-.24],[.75,-.21],[.76,-.22],[.01,-.27],[.02,-.27],[.01,-.33],[.06,-.33],[.09,-.25],[.1,-.24],[.24,-.29],[.34,-.3],[.4,-.3],[.44,-.29],[.47,-.23],[.49,-.36],[.58,-.32],[-.34,-.33],[-.02,-.39],[.03,-.43],[.29,-.41],[.41,-.39],[.43,-.42],[.61,-.46],[.71,-.44],[.72,-.49],[-.57,-.42],[-.54,-.45],[-.42,-.4],[-.39,-.41],[-.38,-.52],[-.31,-.48],[-.3,-.52],[-.2,-.53],[-.18,-.51],[-.09,-.52],[-.08,-.54],[-.24,-.59],[-.19,-.61],[-.04,-.61],[-.49,-.59],[-.63,-.69],[-.4,-.72],[-.32,-.7],[-.18,-.75],[-.13,-.77],[-.08,-.77],[.04,-.61],[.11,-.56],[.22,-.58],[.26,-.54],[.25,-.61],[.08,-.66],[.09,-.65],[.08,-.7],[.1,-.72],[.23,-.7],[.37,-.48],[.39,-.56],[.49,-.54],[.48,-.58],[.37,-.64],[.42,-.67],[.48,-.68],[.51,-.68],[.54,-.69],[.68,-.61],[.73,-.6],[.74,-.64],[.77,-.58],[.58,-.74],[.57,-.76],[.36,-.79],[-.45,-.8],[-.41,-.86],[-.23,-.81],[-.23,-.87],[-.32,-.86],[-.28,-.88],[-.28,-.94],[-.36,-.92],[-.34,-.99],[-.53,-1.19],[-.62,-.93],[-.6,-.91],[-.1,-.94],[-.02,-.88],[.04,-.8],[.04,-.84],[.27,-.82],[.29,-.87],[.3,-.9],[.38,-.91],[.45,-.92],[.48,-.9],[.12,-.94],[.15,-.88],[.19,-.95],[.25,-.99],[.44,-1.01],[.48,-.98],[.5,-1.07],[.58,-1],[.62,-.87],[.6,-.84],[.07,-1.01],[.07,-1.06],[.3,-1.08],[.33,-1.08],[-.44,-1.11],[-.22,-1.18],[.17,-1.15],[.25,-1.19],[-.58,-1.21],[.44,-1.22],[.44,-1.24],[.55,-1.14],[.69,-1.1],[.18,-1.27],[.2,-1.28],[-.04,-1.27],[.34,-1.32],[.39,-1.35],[.4,-1.34],[.14,-1.36],[-.42,-1.39],[-.32,-1.37],[-.16,-1.42],[-.26,-1.41],[.46,-1.41],[.67,-1.36],[.59,-1.43],[-.33,-1.51],[-.45,-1.55],[-.01,-1.5],[.02,-1.55],[.2,-1.56],[.53,-1.56],[.52,-1.62],[.4,-1.57],[.71,-1.54],[-.59,-1.62],[-.47,-1.63],[-.44,-1.61],[-.36,-1.63],[-.13,-1.58],[.22,-1.64],[.28,-1.67],[-.27,-1.67],[-.25,-1.67],[-.28,-1.72],[-.34,-1.71],[-.38,-1.73],[.13,-1.69],[.15,-1.67],[.61,-1.68],[.64,-1.77],[.66,-1.78],[.36,-1.81],[-.21,-1.84],[-.01,-1.86],[-.6,-1.87],[-.55,-1.89],[.59,-1.87],[.68,-1.85],[.64,-1.89],[.65,-1.94],[.74,-1.91],[.4,-1.91],[.36,-1.94],[.01,-1.92],[-.42,-1.95],[-.4,-1.93],[-.37,-1.93],[-.51,-1.97],[-.29,-1.96]];
const artificialSE=[[.92,-.06],[.94,-.09],[.96,-.16],[1.14,-.03],[1.18,-.07],[1.22,-.15],[1.28,-.13],[1.04,-.18],[.8,-.18],[.81,-.22],[.77,-.3],[.88,-.29],[.95,-.3],[.99,-.31],[.9,-.37],[.78,-.4],[.8,-.41],[.89,-.45],[.79,-.49],[1.19,-.39],[1.32,-.44],[1.35,-.25],[1.36,-.34],[1.42,-.35],[1.59,-.25],[1.6,-.27],[1.52,-.27],[1.57,-.35],[1.52,-.35],[1.48,-.25],[1.76,-.24],[1.78,-.21],[1.66,-.02],[1.8,-.02],[1.87,-.09],[1.99,-.02],[1.86,-.38],[1.91,-.39],[1.76,-.49],[1.78,-.51],[1.81,-.49],[1.66,-.47],[1.5,-.49],[1.5,-.55],[1.51,-.56],[1.57,-.56],[1.41,-.58],[1.36,-.53],[1.32,-.56],[1.27,-.51],[1.11,-.57],[1.04,-.52],[.94,-.63],[.77,-.58],[.81,-.64],[1.37,-.66],[1.33,-.71],[1.34,-.71],[1.46,-.7],[1.06,-.76],[1.31,-.81],[1.3,-.82],[1.26,-.81],[1.12,-.88],[1.15,-.92],[1.17,-.96],[1.07,-.94],[1,-.95],[.97,-.83],[.81,-.94],[.86,-.96],[.9,-1.01],[1.46,-.88],[1.5,-.83],[1.52,-.94],[1.57,-.89],[1.59,-.91],[1.34,-.92],[1.36,-1],[1.44,-.98],[1.49,-1.06],[1.52,-1.1],[1.52,-1.15],[1.67,-.99],[1.75,-1.01],[1.72,-1.07],[1.69,-1.1],[1.82,-.64],[1.84,-.7],[1.86,-.74],[1.87,-.77],[1.92,-.78],[1.94,-.71],[1.99,-.83],[1.83,-.86],[1.83,-.93],[1.9,-.93],[1.92,-.99],[1.89,-1.03],[1.89,-1.08],[1.91,-1.19],[1.91,-1.26],[1.88,-1.29],[1.88,-1.33],[1.9,-1.38],[1.68,-1.21],[1.75,-1.23],[1.54,-1.27],[1.58,-1.32],[1.57,-1.38],[1.45,-1.39],[1.45,-1.44],[1.52,-1.32],[1.38,-1.29],[1.45,-1.25],[1.34,-1.41],[1.39,-1.49],[1.24,-1.34],[1.23,-1.41],[1.13,-1.36],[1.14,-1.41],[1.17,-1.24],[.99,-1.31],[.98,-1.35],[1.04,-1.44],[.8,-1.51],[.81,-1.49],[.97,-1.55],[.91,-1.6],[.99,-1.66],[1.04,-1.62],[1.09,-1.65],[1.11,-1.73],[1.1,-1.75],[1.22,-1.61],[1.24,-1.6],[1.33,-1.68],[1.27,-1.72],[1.28,-1.76],[1.31,-1.75],[1.4,-1.78],[1.48,-1.62],[1.49,-1.58],[1.58,-1.49],[1.58,-1.5],[1.62,-1.49],[1.73,-1.47],[1.78,-1.48],[1.93,-1.49],[1.95,-1.5],[1.89,-1.55],[1.9,-1.61],[1.64,-1.64],[1.66,-1.67],[1.69,-1.69],[1.55,-1.68],[1.57,-1.72],[1.64,-1.71],[1.79,-1.73],[1.81,-1.76],[1.89,-1.79],[.95,-1.78],[.98,-1.77],[.97,-1.84],[1.17,-1.86],[1.2,-1.85],[1.22,-1.83],[1.35,-1.85],[1.46,-1.87],[1.49,-1.81],[1.11,-1.93],[1.19,-1.94],[1.22,-1.98],[.97,-1.97],[.8,-1.95],[.78,-1.98],[1.54,-1.97],[1.67,-1.92],[1.79,-1.91],[1.79,-1.95],[1.83,-1.86],[1.85,-1.88],[1.85,-1.93],[1.88,-1.97],[1.97,-1.98]];

const artificial=[...artificialNW,...artificialN,...artificialNE,...artificialSW,...artificialS,...artificialSE];
const original=[...originalNW,...originalN,...originalNE,...originalSW,...originalS,...originalSE];

const chart=Plot.plot({
  width:1183,height:654,
  marginLeft:80,marginRight:149,marginTop:100,marginBottom:81,
  style:{fontFamily:'"Liberation Sans",Arial,sans-serif',fontSize:"15px",color:"#000",background:"#fff"},
  x:{domain:[-2.245,2.255]},
  y:{domain:[-2.246,2.237]},
  marks:[
    Plot.gridX(xTicks,{stroke:"#eee",strokeOpacity:1,strokeWidth:1.4}),
    Plot.gridY(yTicks,{stroke:"#eee",strokeOpacity:1,strokeWidth:1.4}),
    Plot.ruleX([0],{stroke:"#444",strokeWidth:1}),
    Plot.ruleY([0],{stroke:"#444",strokeWidth:1}),
    Plot.dot(artificial,{x:d=>d[0],y:d=>d[1],r:2.4,fill:"#7dadd3",stroke:"none"}),
    Plot.dot(original,{x:d=>d[0],y:d=>d[1],r:3.5,fill:"#c9101f",stroke:"none"}),
    Plot.dot(medianPoint,{x:d=>d[0],y:d=>d[1],r:4.5,fill:"#000",stroke:"none"}),
    Plot.axisX(xTicks,{tickSize:0,tickPadding:0,label:"X",labelAnchor:"center",labelArrow:"none",labelOffset:42,tickFormat:d=>String(d),fontSize:15,dy:3}),
    Plot.axisY(yTicks,{tickSize:0,tickPadding:7,label:"Y",labelAnchor:"center",labelArrow:"none",labelOffset:48,tickFormat:d=>String(d),fontSize:15})
  ]
});
const wrap=document.getElementById("wrap");
wrap.appendChild(chart);
const legendItems=[["Artificial data","#7dadd3",2.4,102],["Original data","#c9101f",3.5,121],["Median","#000",4.5,140]];
for(const [t,c,r,top] of legendItems){
  const s=document.createElement("div");s.className="sw";
  s.style.cssText=`left:${1012.5-r}px;top:${top+9-r}px;width:${2*r}px;height:${2*r}px;background:${c};`;
  wrap.appendChild(s);
  const l=document.createElement("div");l.className="lg";l.textContent=t;l.style.top=top+"px";
  wrap.appendChild(l);
}
</script>
</body>
</html>
